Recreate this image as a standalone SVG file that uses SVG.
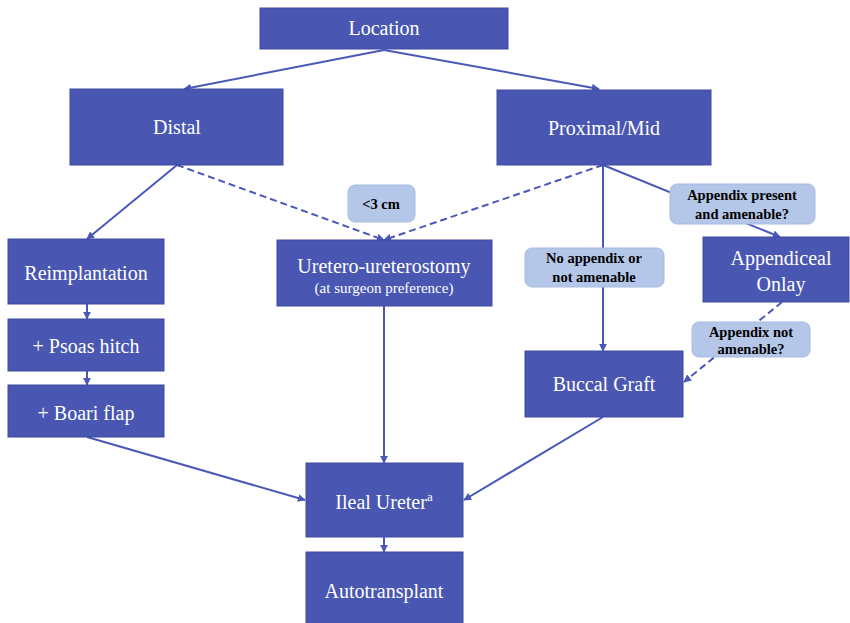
<svg xmlns="http://www.w3.org/2000/svg" width="850" height="623" viewBox="0 0 850 623">
<style>
.box{fill:#4957b2;stroke:#3e4aa0;stroke-width:1}
.lbl{fill:#b5c7e8;stroke:#a6bbe2;stroke-width:1}
text{font-family:'Liberation Serif','DejaVu Serif','Times New Roman',serif}
.t{fill:#ffffff;font-size:20px;text-anchor:middle}
.s{fill:#ffffff;font-size:15px;text-anchor:middle}
.b{fill:#000000;font-size:14.5px;font-weight:bold;text-anchor:middle}
.c{fill:none;stroke:#4a58b8;stroke-width:2}
.d{stroke-dasharray:7,4}
</style>
<defs>
<marker id="ah" viewBox="0 0 10 10" refX="9" refY="5" markerWidth="4" markerHeight="4" orient="auto" markerUnits="strokeWidth">
<path d="M0,0 L10,5 L0,10 z" fill="#4a58b8"/>
</marker>
</defs>
<rect width="850" height="623" fill="#ffffff"/>
<g id="connectors">
<line class="c" x1="384" y1="50" x2="184" y2="89" marker-end="url(#ah)"/>
<line class="c" x1="384" y1="50" x2="599" y2="89" marker-end="url(#ah)"/>
<line class="c" x1="177" y1="165" x2="87" y2="239" marker-end="url(#ah)"/>
<line class="c d" x1="177" y1="165" x2="384" y2="240" marker-end="url(#ah)"/>
<line class="c d" x1="603" y1="165" x2="384" y2="240" marker-end="url(#ah)"/>
<line class="c" x1="603" y1="165" x2="603" y2="351" marker-end="url(#ah)"/>
<line class="c" x1="603" y1="165" x2="780" y2="237" marker-end="url(#ah)"/>
<line class="c d" x1="782" y1="302" x2="684" y2="382" marker-end="url(#ah)"/>
<line class="c" x1="87" y1="304" x2="87" y2="319" marker-end="url(#ah)"/>
<line class="c" x1="87" y1="371" x2="87" y2="385" marker-end="url(#ah)"/>
<line class="c" x1="87" y1="437" x2="305" y2="500" marker-end="url(#ah)"/>
<line class="c" x1="384" y1="306" x2="384" y2="463" marker-end="url(#ah)"/>
<line class="c" x1="603" y1="417" x2="464" y2="500" marker-end="url(#ah)"/>
<line class="c" x1="384" y1="537" x2="384" y2="552" marker-end="url(#ah)"/>
</g>
<g id="location"><rect class="box" x="260" y="8" width="248" height="41"/><text class="t" x="384" y="35">Location</text></g>
<g id="distal"><rect class="box" x="70" y="89" width="213" height="76"/><text class="t" x="177" y="134">Distal</text></g>
<g id="proximal"><rect class="box" x="497" y="90" width="214" height="75"/><text class="t" x="604" y="135">Proximal/Mid</text></g>
<g id="lbl-3cm"><rect class="lbl" x="348" y="185" width="67" height="37" rx="7"/><text class="b" x="381" y="209">&lt;3 cm</text></g>
<g id="lbl-present"><rect class="lbl" x="670" y="184" width="145" height="40" rx="7"/><text class="b" x="742" y="200">Appendix present</text><text class="b" x="742" y="219">and amenable?</text></g>
<g id="reimpl"><rect class="box" x="8" y="239" width="156" height="65"/><text class="t" x="86" y="280">Reimplantation</text></g>
<g id="uu"><rect class="box" x="277" y="240" width="215" height="66"/><text class="t" x="384" y="273">Uretero-ureterostomy</text><text class="s" x="384" y="293">(at surgeon preference)</text></g>
<g id="lbl-noapp"><rect class="lbl" x="525" y="248" width="139" height="39" rx="7"/><text class="b" x="594" y="263">No appendix or</text><text class="b" x="594" y="282">not amenable</text></g>
<g id="onlay"><rect class="box" x="703" y="237" width="146" height="65"/><text class="t" x="781" y="265">Appendiceal</text><text class="t" x="781" y="291">Onlay</text></g>
<g id="psoas"><rect class="box" x="8" y="319" width="156" height="52"/><text class="t" x="86" y="353">+ Psoas hitch</text></g>
<g id="lbl-notam"><rect class="lbl" x="692" y="322" width="118" height="35" rx="7"/><text class="b" x="751" y="337">Appendix not</text><text class="b" x="751" y="354">amenable?</text></g>
<g id="buccal"><rect class="box" x="525" y="351" width="158" height="66"/><text class="t" x="604" y="391">Buccal Graft</text></g>
<g id="boari"><rect class="box" x="8" y="385" width="156" height="52"/><text class="t" x="86" y="420">+ Boari flap</text></g>
<g id="ileal"><rect class="box" x="306" y="463" width="157" height="74"/><text class="t" x="384" y="509">Ileal Ureter<tspan font-size="13" dy="-8">a</tspan></text></g>
<g id="auto"><rect class="box" x="306" y="552" width="157" height="75"/><text class="t" x="384" y="598">Autotransplant</text></g>
</svg>
